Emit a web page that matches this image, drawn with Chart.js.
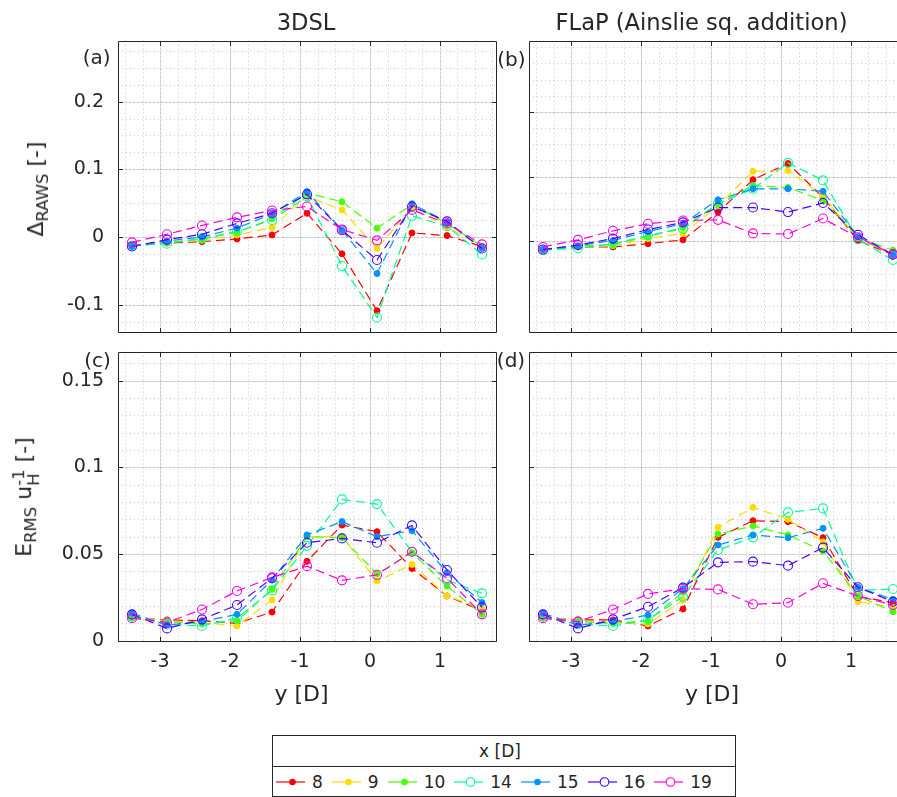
<!DOCTYPE html>
<html>
<head>
<meta charset="utf-8">
<title>RAWS / ERMS comparison</title>
<script src="https://cdn.jsdelivr.net/npm/chart.js@4.4.1/dist/chart.umd.min.js"></script>
<style>
  html, body { margin: 0; padding: 0; width: 897px; height: 797px; overflow: hidden; background: #fff; }
  body { position: relative; font-family: 'DejaVu Sans', sans-serif; color: #262626; }
  canvas { position: absolute; }
  .txt { position: absolute; transform: translate(-50%, -50%); line-height: 1; white-space: nowrap; }
  .rot { transform: translate(-50%, -50%) rotate(-90deg); }
  .title { font-size: 22.6px; }
  .tag { font-size: 20px; }
  .xlab { font-size: 22px; }
  .ylab { font-size: 22px; }
  .ylab sub { font-size: 0.75em; vertical-align: -0.3em; line-height: 0; }
  .stack { display: inline-flex; flex-direction: column; font-size: 0.75em; line-height: 0.9; vertical-align: 0.45em; }
  #legend { position: absolute; left: 272px; top: 735px; width: 462px; height: 60px; border: 1px solid #262626; font-size: 17px; }
  #legend .head { height: 30px; border-bottom: 1px solid #262626; position: relative; }
  #legend .row { height: 29px; display: flex; align-items: center; padding-left: 3px; }
  #legend .entry { display: flex; align-items: center; margin-right: 9px; }
  #legend .entry span { margin-left: 7px; }
  #legend svg { display: block; }
</style>
</head>
<body>
<canvas id="panelA" width="500" height="340" style="left:0;top:0"></canvas>
<canvas id="panelB" width="420" height="340" style="left:500px;top:0"></canvas>
<canvas id="panelC" width="500" height="350" style="left:0;top:345px"></canvas>
<canvas id="panelD" width="420" height="350" style="left:500px;top:345px"></canvas>

<div class="txt title" style="left:306px;top:21.5px">3DSL</div>
<div class="txt title" style="left:701.5px;top:21.5px">FLaP (Ainslie sq. addition)</div>
<div class="txt tag" style="left:96.7px;top:57px">(a)</div>
<div class="txt tag" style="left:511.3px;top:58.6px">(b)</div>
<div class="txt tag" style="left:97.5px;top:360.2px">(c)</div>
<div class="txt tag" style="left:511px;top:360.2px">(d)</div>
<div class="txt xlab" style="left:301.5px;top:694px">y [D]</div>
<div class="txt xlab" style="left:712px;top:694px">y [D]</div>
<div class="txt ylab rot" style="left:35.7px;top:188.5px">Δ<sub>RAWS</sub> [-]</div>
<div class="txt ylab rot" style="left:27px;top:497px">E<sub>RMS</sub> u<span class="stack"><span>-1</span><span>H</span></span> [-]</div>

<div id="legend">
  <div class="head"><div class="txt" style="left:227px;top:15px">x [D]</div></div>
  <div class="row"></div>
</div>

<script>
// lateral positions of the measurement points (horizontal axis)
const LATERAL_Y = [-3.4, -2.9, -2.4, -1.9, -1.4, -0.9, -0.4, 0.1, 0.6, 1.1, 1.6];

// downstream distances, one series each
const DOWNSTREAM_X = ['8', '9', '10', '14', '15', '16', '19'];
const SERIES_COLORS = ['#ff0000', '#ffdb00', '#49ff00', '#00ff92', '#0092ff', '#4900ff', '#ff00db'];
const SERIES_FILLED = [true, true, true, false, true, false, false];

// (a) 3DSL, Delta RAWS; rows follow DOWNSTREAM_X
const RAWS_3DSL = [
  [-0.013, -0.009, -0.007, -0.003, 0.003, 0.035, -0.025, -0.109, 0.006, 0.002, -0.014],
  [-0.013, -0.008, -0.005, 0.003, 0.014, 0.060, 0.040, -0.017, 0.043, 0.015, -0.014],
  [-0.013, -0.008, -0.003, 0.007, 0.027, 0.065, 0.052, 0.013, 0.048, 0.020, -0.014],
  [-0.013, -0.010, -0.002, 0.008, 0.025, 0.060, -0.043, -0.119, 0.031, 0.016, -0.026],
  [-0.014, -0.006, 0.000, 0.013, 0.034, 0.067, 0.010, -0.054, 0.049, 0.022, -0.017],
  [-0.014, -0.004, 0.004, 0.020, 0.035, 0.063, 0.010, -0.034, 0.045, 0.023, -0.017],
  [-0.008, 0.004, 0.017, 0.029, 0.039, 0.045, 0.011, -0.005, 0.040, 0.020, -0.011]
];

// (b) FLaP, Delta RAWS
const RAWS_FLAP = [
  [-0.013, -0.009, -0.009, -0.004, 0.002, 0.045, 0.095, 0.120, 0.068, 0.001, -0.021],
  [-0.013, -0.008, -0.007, 0.004, 0.012, 0.055, 0.108, 0.109, 0.070, 0.004, -0.021],
  [-0.013, -0.008, -0.005, 0.007, 0.021, 0.058, 0.086, 0.083, 0.063, 0.005, -0.014],
  [-0.014, -0.011, -0.004, 0.009, 0.019, 0.058, 0.081, 0.121, 0.094, 0.003, -0.029],
  [-0.013, -0.007, 0.001, 0.015, 0.027, 0.064, 0.081, 0.081, 0.077, 0.007, -0.021],
  [-0.013, -0.006, 0.004, 0.018, 0.029, 0.052, 0.052, 0.045, 0.059, 0.010, -0.021],
  [-0.009, 0.002, 0.016, 0.027, 0.032, 0.033, 0.012, 0.011, 0.035, 0.006, -0.020]
];

// (c) 3DSL, ERMS / uH
const ERMS_3DSL = [
  [0.0135, 0.0120, 0.0115, 0.0100, 0.0165, 0.0458, 0.0667, 0.0629, 0.0417, 0.0258, 0.0173],
  [0.0140, 0.0115, 0.0105, 0.0085, 0.0235, 0.0600, 0.0600, 0.0344, 0.0440, 0.0258, 0.0187],
  [0.0130, 0.0110, 0.0096, 0.0115, 0.0296, 0.0600, 0.0594, 0.0385, 0.0508, 0.0315, 0.0152],
  [0.0140, 0.0094, 0.0085, 0.0130, 0.0290, 0.0546, 0.0815, 0.0788, 0.0513, 0.0350, 0.0273],
  [0.0158, 0.0090, 0.0110, 0.0152, 0.0350, 0.0610, 0.0687, 0.0600, 0.0635, 0.0392, 0.0220],
  [0.0152, 0.0071, 0.0123, 0.0206, 0.0360, 0.0565, 0.0590, 0.0565, 0.0665, 0.0408, 0.0192],
  [0.0130, 0.0105, 0.0180, 0.0287, 0.0365, 0.0430, 0.0348, 0.0380, 0.0513, 0.0360, 0.0152]
];

// (d) FLaP, ERMS / uH
const ERMS_FLAP = [
  [0.0135, 0.0120, 0.0120, 0.0085, 0.0183, 0.0596, 0.0692, 0.0687, 0.0594, 0.0254, 0.0220],
  [0.0140, 0.0115, 0.0105, 0.0096, 0.0235, 0.0654, 0.0769, 0.0700, 0.0570, 0.0225, 0.0192],
  [0.0130, 0.0110, 0.0100, 0.0115, 0.0280, 0.0615, 0.0662, 0.0610, 0.0517, 0.0258, 0.0167],
  [0.0140, 0.0096, 0.0085, 0.0120, 0.0254, 0.0523, 0.0596, 0.0740, 0.0763, 0.0290, 0.0298],
  [0.0158, 0.0090, 0.0110, 0.0148, 0.0300, 0.0552, 0.0610, 0.0594, 0.0648, 0.0308, 0.0238],
  [0.0152, 0.0071, 0.0123, 0.0196, 0.0306, 0.0452, 0.0456, 0.0433, 0.0537, 0.0308, 0.0225],
  [0.0130, 0.0110, 0.0180, 0.0270, 0.0300, 0.0296, 0.0210, 0.0219, 0.0331, 0.0258, 0.0206]
];

// tick values and labels
const Y_TICKS = [-3, -2, -1, 0, 1];
const Y_TICK_LABELS = ['-3', '-2', '-1', '0', '1'];
const RAWS_TICKS_A = [-0.1, 0, 0.1, 0.2];
const RAWS_TICK_LABELS_A = ['-0.1', '0', '0.1', '0.2'];
const RAWS_TICKS_B = [0, 0.1, 0.2];
const ERMS_TICKS = [0, 0.05, 0.1, 0.15];
const ERMS_TICK_LABELS = ['0', '0.05', '0.1', '0.15'];

const AXIS_COLOR = '#262626';
const MAJOR_GRID = 'rgba(38,38,38,0.15)';
const MINOR_GRID = 'rgba(38,38,38,0.24)';

Chart.defaults.font.family = "'DejaVu Sans', sans-serif";
Chart.defaults.color = AXIS_COLOR;

/**
 * values k*step that fall inside [min, max]
 */
function minorValues (min, max, step) {
  const out = [];
  for (let k = Math.ceil(min / step - 1e-9); k * step <= max + 1e-9; k++) {
    out.push(k * step);
  }
  return out;
}

/**
 * Matlab-like axes: dotted minor grid, solid major grid, box with inward ticks
 */
const matlabAxes = {
  id: 'matlabAxes',

  beforeDatasetsDraw (chart, args, opts) {
    const { ctx, chartArea: area, scales: { x, y } } = chart;
    const px = v => Math.round(x.getPixelForValue(v)) + 0.5;
    const py = v => Math.round(y.getPixelForValue(v)) + 0.5;

    ctx.save();
    ctx.lineWidth = 1;

    ctx.strokeStyle = MINOR_GRID;
    ctx.setLineDash([1, 3]);
    ctx.beginPath();
    minorValues(x.min, x.max, opts.xMinor).forEach(v => {
      ctx.moveTo(px(v), area.top);
      ctx.lineTo(px(v), area.bottom);
    });
    minorValues(y.min, y.max, opts.yMinor).forEach(v => {
      ctx.moveTo(area.left, py(v));
      ctx.lineTo(area.right, py(v));
    });
    ctx.stroke();

    ctx.strokeStyle = MAJOR_GRID;
    ctx.setLineDash([]);
    ctx.beginPath();
    x.ticks.forEach(t => {
      ctx.moveTo(px(t.value), area.top);
      ctx.lineTo(px(t.value), area.bottom);
    });
    y.ticks.forEach(t => {
      ctx.moveTo(area.left, py(t.value));
      ctx.lineTo(area.right, py(t.value));
    });
    ctx.stroke();
    ctx.restore();
  },

  afterDatasetsDraw (chart) {
    const { ctx, chartArea: area, scales: { x, y } } = chart;
    const tick = 4.5;
    const l = Math.round(area.left) + 0.5;
    const r = Math.round(area.right) + 0.5;
    const t = Math.round(area.top) + 0.5;
    const b = Math.round(area.bottom) + 0.5;

    ctx.save();
    ctx.strokeStyle = AXIS_COLOR;
    ctx.lineWidth = 1;
    ctx.beginPath();
    ctx.rect(l, t, r - l, b - t);
    x.ticks.forEach(tk => {
      const p = Math.round(x.getPixelForValue(tk.value)) + 0.5;
      ctx.moveTo(p, b); ctx.lineTo(p, b - tick);
      ctx.moveTo(p, t); ctx.lineTo(p, t + tick);
    });
    y.ticks.forEach(tk => {
      const p = Math.round(y.getPixelForValue(tk.value)) + 0.5;
      ctx.moveTo(l, p); ctx.lineTo(l + tick, p);
      ctx.moveTo(r, p); ctx.lineTo(r - tick, p);
    });
    ctx.stroke();
    ctx.restore();
  }
};

/**
 * @param {string} canvasId
 * @param {Object} cfg
 */
function createPanel (canvasId, cfg) {
  const datasets = DOWNSTREAM_X.map((label, i) => ({
    label,
    data: LATERAL_Y.map((yPos, j) => ({ x: yPos, y: cfg.values[i][j] })),
    borderColor: SERIES_COLORS[i],
    borderWidth: 1.2,
    borderDash: [9, 5],
    tension: 0,
    fill: false,
    pointStyle: 'circle',
    pointRadius: SERIES_FILLED[i] ? 3 : 4.5,
    pointBorderWidth: SERIES_FILLED[i] ? 1 : 1.1,
    pointBorderColor: SERIES_COLORS[i],
    pointBackgroundColor: SERIES_FILLED[i] ? SERIES_COLORS[i] : 'rgba(0,0,0,0)',
    order: DOWNSTREAM_X.length - i
  }));

  const fixTicks = (values) => (scale) => {
    scale.ticks = values.map(v => ({ value: v }));
  };
  const fixSize = (prop, size) => (scale) => {
    scale[prop] = size;
    scale.paddingTop = scale.paddingBottom = scale.paddingLeft = scale.paddingRight = 0;
  };

  return new Chart(document.getElementById(canvasId), {
    type: 'line',
    data: { datasets },
    options: {
      responsive: false,
      animation: false,
      devicePixelRatio: 1,
      layout: { autoPadding: false, padding: cfg.padding },
      plugins: {
        legend: { display: false },
        tooltip: { enabled: false },
        matlabAxes: { xMinor: 0.25, yMinor: cfg.yMinor }
      },
      scales: {
        x: {
          type: 'linear',
          min: -3.6,
          max: 1.8,
          grid: { display: false, drawTicks: false },
          border: { display: false },
          ticks: {
            display: cfg.xLabels,
            padding: 10,
            font: { size: 19 },
            callback: v => Y_TICK_LABELS[Y_TICKS.indexOf(v)]
          },
          afterBuildTicks: fixTicks(Y_TICKS),
          afterFit: fixSize('height', cfg.xHeight)
        },
        y: {
          type: 'linear',
          min: cfg.yMin,
          max: cfg.yMax,
          grid: { display: false, drawTicks: false },
          border: { display: false },
          ticks: {
            display: !!cfg.yLabels,
            padding: 14,
            font: { size: 19 },
            callback: v => cfg.yLabels ? cfg.yLabels[cfg.yTicks.indexOf(v)] : ''
          },
          afterBuildTicks: fixTicks(cfg.yTicks),
          afterFit: fixSize('width', cfg.yWidth)
        }
      }
    },
    plugins: [matlabAxes]
  });
}

function buildLegend () {
  const row = document.querySelector('#legend .row');
  DOWNSTREAM_X.forEach((label, i) => {
    const c = SERIES_COLORS[i];
    const marker = SERIES_FILLED[i]
      ? `<circle cx="16.5" cy="7" r="3.3" fill="${c}"/>`
      : `<circle cx="16.5" cy="7" r="4.3" fill="#fff" stroke="${c}" stroke-width="1.1"/>`;
    const entry = document.createElement('div');
    entry.className = 'entry';
    entry.innerHTML =
      `<svg width="29" height="14"><line x1="0" y1="7" x2="29" y2="7" stroke="${c}" stroke-width="1.2"/>${marker}</svg>` +
      `<span>${label}</span>`;
    row.appendChild(entry);
  });
}

createPanel('panelA', {
  values: RAWS_3DSL, yMin: -0.14, yMax: 0.29, yMinor: 0.025,
  yTicks: RAWS_TICKS_A, yLabels: RAWS_TICK_LABELS_A,
  xLabels: false, xHeight: 8.3, yWidth: 118,
  padding: { top: 40.7, right: 4, bottom: 0, left: 0 }
});
createPanel('panelB', {
  values: RAWS_FLAP, yMin: -0.14, yMax: 0.31, yMinor: 0.025,
  yTicks: RAWS_TICKS_B, yLabels: null,
  xLabels: false, xHeight: 8.3, yWidth: 29,
  padding: { top: 40.7, right: 13, bottom: 0, left: 0 }
});
createPanel('panelC', {
  values: ERMS_3DSL, yMin: 0, yMax: 0.1667, yMinor: 0.01,
  yTicks: ERMS_TICKS, yLabels: ERMS_TICK_LABELS,
  xLabels: true, xHeight: 54.3, yWidth: 118,
  padding: { top: 6.7, right: 4, bottom: 0, left: 0 }
});
createPanel('panelD', {
  values: ERMS_FLAP, yMin: 0, yMax: 0.1667, yMinor: 0.01,
  yTicks: ERMS_TICKS, yLabels: null,
  xLabels: true, xHeight: 54.3, yWidth: 29,
  padding: { top: 6.7, right: 13, bottom: 0, left: 0 }
});
buildLegend();
</script>
</body>
</html>
